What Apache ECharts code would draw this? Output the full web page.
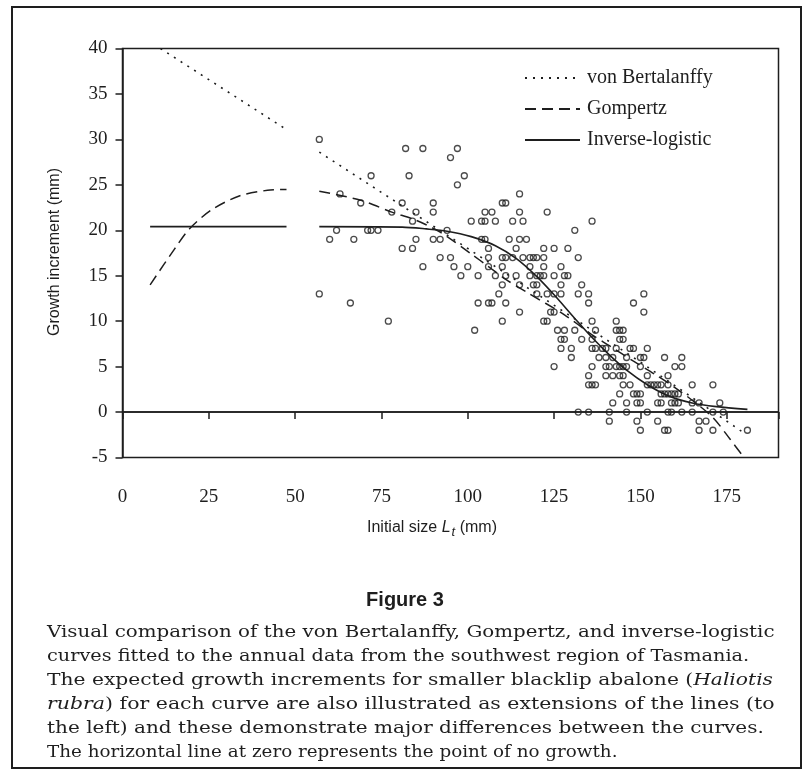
<!DOCTYPE html>
<html lang="en">
  <head>
    <meta charset="UTF-8" />
    <title>Figure 3</title>
    <style type="text/css">
      html, body { margin: 0; padding: 0; background: #fff; }
      #main { width: 811px; height: 776px; }
    </style>
  </head>
  <body>
    <div id="main"></div>
    <script src="https://cdn.jsdelivr.net/npm/echarts@6/dist/echarts.min.js"></script>
    <script>
      // observed increments: one list of initial sizes per growth value
      var growthLevels = [30, 29, 28, 26, 25, 24, 23, 22, 21, 20, 19, 18, 17, 16, 15, 14, 13, 12, 11, 10,
        9, 8, 7, 6, 5, 4, 3, 2, 1, 0, -1, -2];
      var sizesAtLevel = [
        [57],
        [82, 87, 97],
        [95],
        [72, 83, 99],
        [97],
        [63, 115],
        [69, 81, 90, 110, 111],
        [78, 85, 90, 105, 107, 115, 123],
        [84, 101, 104, 105, 108, 113, 116, 136],
        [62, 71, 72, 74, 94, 131],
        [60, 67, 85, 90, 92, 104, 105, 112, 115, 117],
        [81, 84, 106, 114, 122, 125, 129],
        [92, 95, 106, 110, 111, 113, 116, 118, 119, 120, 122, 132],
        [87, 96, 100, 106, 110, 118, 122, 127],
        [98, 103, 108, 111, 114, 118, 120, 121, 122, 125, 128, 129],
        [110, 115, 119, 120, 127, 133],
        [57, 109, 120, 123, 125, 127, 132, 135, 151],
        [66, 103, 106, 107, 111, 135, 148],
        [115, 124, 125, 151],
        [77, 110, 122, 123, 136, 143],
        [102, 126, 128, 131, 137, 143, 144, 145],
        [127, 128, 133, 136, 144, 145],
        [127, 130, 136, 137, 139, 140, 143, 147, 148, 152],
        [130, 138, 140, 142, 146, 150, 151, 157, 162],
        [125, 136, 140, 141, 143, 144, 145, 146, 150, 160, 162],
        [135, 140, 142, 144, 145, 152, 158],
        [135, 136, 137, 145, 147, 152, 153, 154, 155, 156, 158, 165, 171],
        [144, 148, 149, 150, 156, 157, 158, 159, 160, 161],
        [142, 146, 149, 150, 155, 156, 159, 160, 161, 165, 167, 173],
        [132, 135, 141, 146, 152, 158, 159, 162, 165, 171, 174],
        [141, 149, 155, 167, 169],
        [150, 157, 158, 167, 171, 181]
      ];

      // fitted curves (left piece = extension to small sizes)
      var vbLeftX = [11, 47];
      var vbLeftY = [40.0, 31.2];
      var vbRightX = [57, 100, 150, 180];
      var vbRightY = [28.6, 18.0, 5.5, -2.3];

      var gzLeftX = [8, 15, 19.5, 26, 34, 42, 47.5];
      var gzLeftY = [14.0, 17.9, 20.2, 22.3, 23.8, 24.4, 24.5];
      var gzRightX = [57, 69, 78, 85, 92, 101, 106, 111, 117, 128, 136, 141, 148, 154, 160, 165, 171, 176, 180];
      var gzRightY = [24.3, 23.3, 22.0, 21.1, 19.8, 17.4, 16.0, 14.6, 13.2, 10.7, 8.5, 7.3, 5.6, 4.2, 2.7, 1.3, -0.6, -3.0, -5.0];

      var ilLeftX = [8, 47.5];
      var ilLeftY = [20.4, 20.4];
      var ilRightX = [57, 81, 88, 94, 101, 108, 114, 120, 125, 131, 136, 141, 146, 152, 158, 165, 172, 181];
      var ilRightY = [20.4, 20.35, 20.15, 19.9, 19.3, 18.3, 16.9, 14.9, 12.9, 10.3, 8.2, 6.3, 4.6, 3.0, 1.8, 1.0, 0.6, 0.3];

      var xTicks = [0, 25, 50, 75, 100, 125, 150, 175];
      var yTicks = [-5, 0, 5, 10, 15, 20, 25, 30, 35, 40];

      var captionLines = [
        "Visual comparison of the von Bertalanffy, Gompertz, and inverse-logistic",
        "curves fitted to the annual data from the southwest region of Tasmania.",
        "The expected growth increments for smaller blacklip abalone ({i|Haliotis}",
        "{i|rubra}) for each curve are also illustrated as extensions of the lines (to",
        "the left) and these demonstrate major differences between the curves.",
        "The horizontal line at zero represents the point of no growth."
      ];
      // horizontal stretch of each caption line (the printed caption is justified)
      var captionStretch = [1.133, 1.101, 1.156, 1.170, 1.144, 1.047];

      function pairs(xs, ys) {
        return xs.map(function (x, i) { return [x, ys[i]]; });
      }

      var obs = [];
      growthLevels.forEach(function (g, i) {
        sizesAtLevel[i].forEach(function (s) { obs.push([s, g]); });
      });

      var ink = "#1e1e1e";
      var serif = "Liberation Serif";
      var dotted = [2, 6];
      var dashed = [11, 6];

      function curve(name, data, type, width, smooth) {
        return {
          name: name,
          type: "line",
          data: data,
          symbol: "none",
          smooth: smooth,
          silent: true,
          z: 3,
          itemStyle: { color: ink },
          lineStyle: { color: ink, width: width, type: type }
        };
      }

      var captionGraphics = captionLines.map(function (t, i) {
        return {
          type: "text",
          x: 47,
          y: 623 + i * 24,
          scaleX: captionStretch[i],
          style: {
            text: t,
            font: "17.5px 'DejaVu Serif'",
            fill: ink,
            rich: { i: { fontStyle: "italic", fontFamily: "DejaVu Serif", fontSize: 17.5 } }
          }
        };
      });

      var myChart = echarts.init(document.getElementById("main"));
      var option = {
        animation: false,
        backgroundColor: "#fff",
        grid: {
          left: 122.5,
          right: 32.5,
          top: 48.5,
          bottom: 318.5,
          show: true,
          borderColor: ink,
          borderWidth: 1.5
        },
        legend: {
          data: ["von Bertalanffy", "Gompertz", "Inverse-logistic"],
          orient: "vertical",
          left: 519,
          top: 63,
          itemWidth: 55,
          itemHeight: 16,
          itemGap: 11,
          selectedMode: false,
          itemStyle: { opacity: 0 },
          textStyle: { fontFamily: serif, fontSize: 20, color: ink, padding: [0, 0, 0, 2] }
        },
        xAxis: {
          type: "value",
          min: 0,
          max: 190,
          interval: 25,
          splitLine: { show: false },
          axisLine: { lineStyle: { color: ink, width: 1.5 } },
          axisTick: { length: 7, lineStyle: { color: ink, width: 1.5 } },
          axisLabel: {
            margin: 30,
            fontFamily: serif,
            fontSize: 19,
            color: ink,
            formatter: function (v) { return xTicks.indexOf(v) >= 0 ? String(v) : ""; }
          }
        },
        yAxis: {
          type: "value",
          min: -5,
          max: 40,
          interval: 5,
          splitLine: { show: false },
          axisLine: { onZero: false, lineStyle: { color: ink, width: 1.5 } },
          axisTick: { length: 7, lineStyle: { color: ink, width: 1.5 } },
          axisLabel: {
            margin: 15,
            fontFamily: serif,
            fontSize: 19,
            color: ink,
            formatter: function (v) { return yTicks.indexOf(v) >= 0 ? String(v) : ""; }
          }
        },
        series: [
          {
            name: "observed",
            type: "scatter",
            data: obs,
            symbol: "circle",
            symbolSize: 6,
            silent: true,
            z: 2,
            itemStyle: { color: "rgba(255,255,255,0)", borderColor: ink, borderWidth: 1.3 },
            markLine: {
              silent: true,
              symbol: "none",
              label: { show: false },
              lineStyle: { color: ink, width: 1.5, type: "solid" },
              data: [{ yAxis: 0 }]
            }
          },
          curve("von Bertalanffy", pairs(vbLeftX, vbLeftY), dotted, 1.6, false),
          curve("von Bertalanffy", pairs(vbRightX, vbRightY), dotted, 1.6, false),
          curve("Gompertz", pairs(gzLeftX, gzLeftY), dashed, 1.5, 0.3),
          curve("Gompertz", pairs(gzRightX, gzRightY), dashed, 1.5, 0.3),
          curve("Inverse-logistic", pairs(ilLeftX, ilLeftY), "solid", 1.6, false),
          curve("Inverse-logistic", pairs(ilRightX, ilRightY), "solid", 1.6, 0.3)
        ],
        graphic: [
          {
            type: "rect",
            shape: { x: 12, y: 7, width: 789, height: 761 },
            style: { fill: "none", stroke: ink, lineWidth: 2 },
            silent: true
          },
          {
            type: "text",
            x: 55,
            y: 252,
            rotation: Math.PI / 2,
            style: {
              text: "Growth increment (mm)",
              font: "16px 'Liberation Sans'",
              fill: ink,
              align: "center",
              verticalAlign: "middle"
            }
          },
          {
            type: "text",
            x: 432,
            y: 528,
            style: {
              text: "Initial size {L|L}{t|t} (mm)",
              font: "16px 'Liberation Sans'",
              fill: ink,
              align: "center",
              verticalAlign: "middle",
              rich: {
                L: { fontFamily: "Liberation Sans", fontSize: 16, fontStyle: "italic" },
                t: { fontFamily: "Liberation Sans", fontSize: 13, fontStyle: "italic", padding: [9, 0, 0, 1] }
              }
            }
          },
          {
            type: "text",
            x: 405,
            y: 600,
            style: {
              text: "Figure 3",
              font: "bold 20px 'Liberation Sans'",
              fill: ink,
              align: "center",
              verticalAlign: "middle"
            }
          }
        ].concat(captionGraphics)
      };
      myChart.setOption(option);
    </script>
  </body>
</html>
